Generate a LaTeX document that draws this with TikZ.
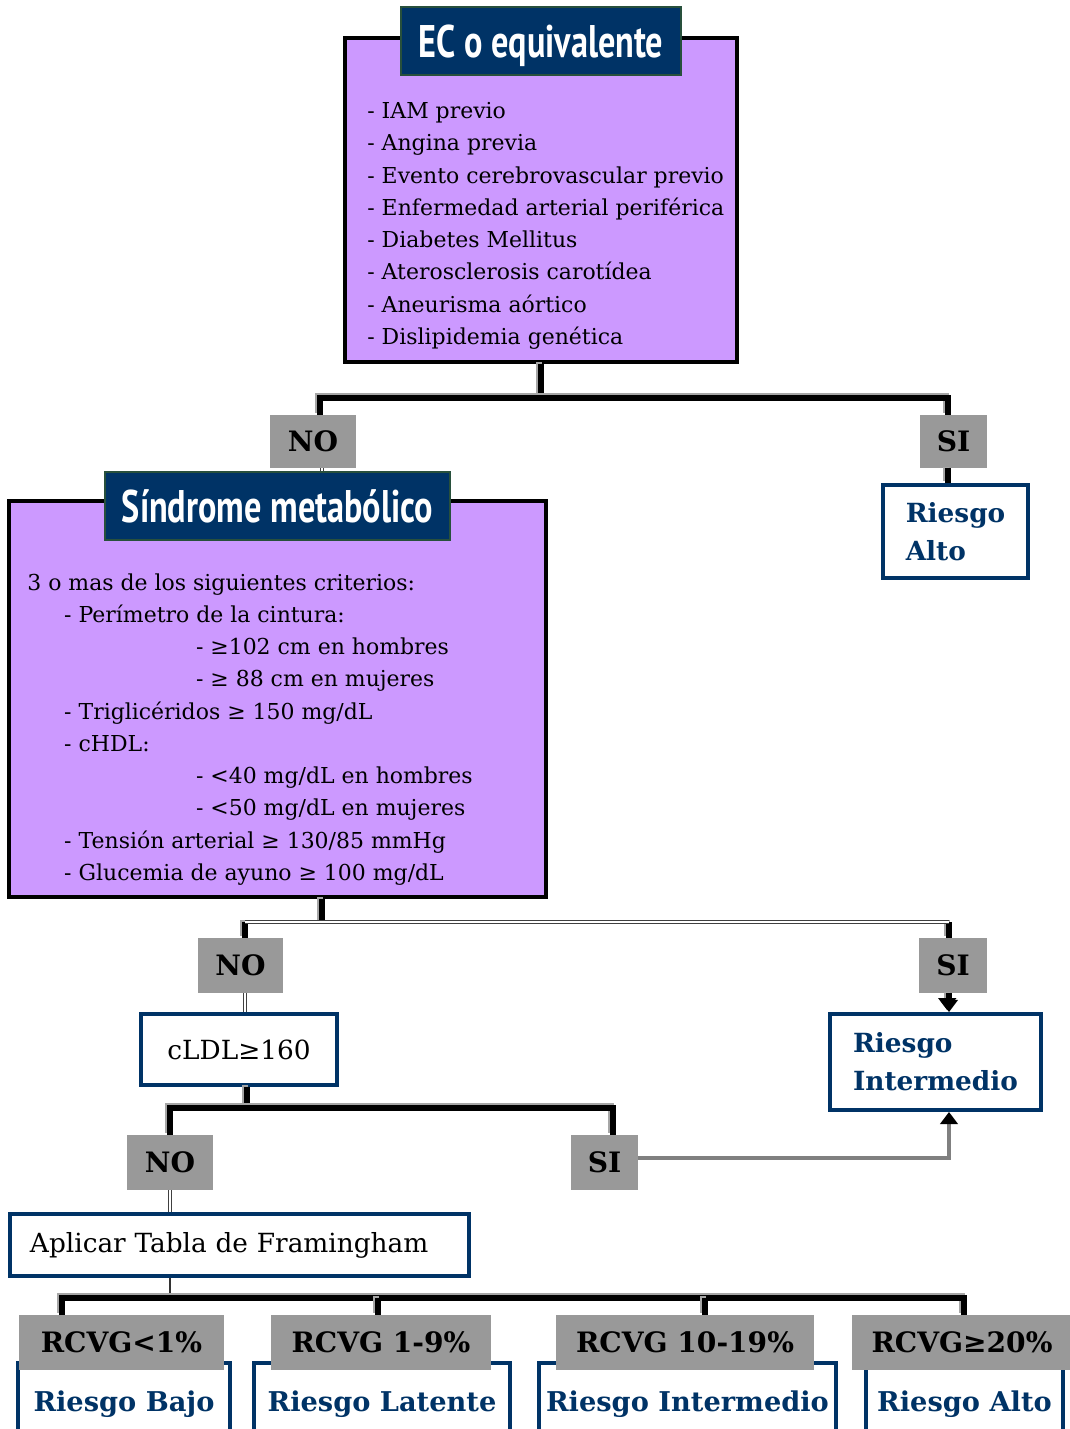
\documentclass[tikz,border=0pt]{standalone}
\usepackage{fontspec}
\setmainfont{DejaVu Serif}
\newfontfamily\hdrfont[FakeStretch=0.75]{PT Sans}
\usetikzlibrary{arrows.meta}
\definecolor{lila}{RGB}{204,153,255}
\definecolor{navy}{RGB}{0,51,102}
\definecolor{lblgray}{RGB}{153,153,153}
\definecolor{hdrline}{RGB}{40,80,60}
% name, style, x1, y1, x2, y2, text  (pixel units)
\newcommand\boxat[7]{\node[#2, minimum width={(#5-#3)*0.02cm}, minimum height={(#6-#4)*0.02cm}] (#1) at ({(#3+#5)/2},{(#4+#6)/2}) {#7};}
\begin{document}
\begin{tikzpicture}[x=0.02cm,y=-0.02cm,
  purp/.style={draw=black, line width=2.3pt, fill=lila, inner sep=0pt},
  hdr/.style={fill=navy, draw=hdrline, line width=0.6pt, text=white, inner sep=0pt, text depth=0pt,
    font=\hdrfont\bfseries\fontsize{26}{30}\selectfont},
  lbl/.style={fill=lblgray, text=black, inner sep=0pt, font=\bfseries\fontsize{16}{19}\selectfont},
  wbox/.style={draw=navy, line width=2.2pt, fill=white, inner sep=0pt},
  risk/.style={wbox, text=navy, align=left, font=\bfseries\fontsize{15}{21.5}\selectfont},
  riskb/.style={risk, font=\bfseries\fontsize{15.5}{19}\selectfont},
  plain/.style={wbox, text=black, font=\fontsize{15}{18}\selectfont},
  listtxt/.style={anchor=north west, inner sep=0pt, align=left, text=black,
    font=\fontsize{12.5}{18.37}\selectfont},
  thk/.style={draw=black, line width=3.5pt,
    preaction={draw=black!35, line width=3.5pt, transform canvas={shift={(-1pt,1pt)}}}},
  dbl/.style={draw=black!75, double=white, line width=0.6pt, double distance=1.5pt},
  thinc/.style={draw=black!80, line width=1pt},
  gline/.style={draw=black!50, line width=2.4pt},
  tip/.style={-{Triangle[length=7pt,width=10pt,color=black]}}
]
\useasboundingbox (0,0) rectangle (1070,1429);
\clip (0,0) rectangle (1070,1429);

% ---------- level 1 ----------
\boxat{ec}{purp}{345}{38}{737}{362}{}
\boxat{ech}{hdr}{401}{7}{681}{75}{EC o equivalente}
\node[listtxt] (ecl) at (367,102) {- IAM previo\\- Angina previa\\- Evento cerebrovascular previo\\- Enfermedad arterial periférica\\- Diabetes Mellitus\\- Aterosclerosis carotídea\\- Aneurisma aórtico\\- Dislipidemia genética};

\boxat{no1}{lbl}{270}{415}{356}{468}{NO}
\boxat{si1}{lbl}{920}{415}{987}{468}{SI}
\boxat{ra1}{risk}{883}{485}{1028}{578}{Riesgo\\Alto}

% ---------- level 2 ----------
\boxat{sm}{purp}{9}{501}{546}{897}{}
\boxat{smh}{hdr}{105}{472}{450}{540}{Síndrome metabólico}
\node[listtxt] (sml) at (27,573) {3 o mas de los siguientes criterios:\\
\hspace*{21pt}- Perímetro de la cintura:\\
\hspace*{96pt}- ≥102 cm en hombres\\
\hspace*{96pt}- ≥ 88 cm en mujeres\\
\hspace*{21pt}- Triglicéridos ≥ 150 mg/dL\\
\hspace*{21pt}- cHDL:\\
\hspace*{96pt}- <40 mg/dL en hombres\\
\hspace*{96pt}- <50 mg/dL en mujeres\\
\hspace*{21pt}- Tensión arterial ≥ 130/85 mmHg\\
\hspace*{21pt}- Glucemia de ayuno ≥ 100 mg/dL};

\boxat{no2}{lbl}{198}{938}{283}{993}{NO}
\boxat{si2}{lbl}{919}{938}{987}{993}{SI}
\boxat{ri}{risk}{830}{1014}{1041}{1110}{Riesgo\\Intermedio}
\boxat{ldl}{plain}{141}{1014}{337}{1085}{cLDL≥160}

% ---------- level 3 ----------
\boxat{no3}{lbl}{127}{1135}{213}{1190}{NO}
\boxat{si3}{lbl}{571}{1135}{638}{1190}{SI}
\node[plain, minimum width={459*0.02cm}, minimum height={62*0.02cm}, text width={419*0.02cm}, align=left] (fr) at (239.5,1245) {Aplicar Tabla de Framingham};

% ---------- level 4 ----------
\boxat{b1}{riskb}{18}{1363}{230}{1445}{Riesgo Bajo}
\boxat{b2}{riskb}{254}{1363}{510}{1445}{Riesgo Latente}
\boxat{b3}{riskb}{539}{1363}{836}{1445}{Riesgo Intermedio}
\boxat{b4}{riskb}{866}{1363}{1063}{1445}{Riesgo Alto}
\boxat{g1}{lbl}{19}{1315}{224}{1370}{RCVG<1\%}
\boxat{g2}{lbl}{271}{1315}{491}{1370}{RCVG 1-9\%}
\boxat{g3}{lbl}{556}{1315}{814}{1370}{RCVG 10-19\%}
\boxat{g4}{lbl}{852}{1315}{1072}{1370}{RCVG≥20\%}

% ---------- connectors ----------
\coordinate (j1l) at (320,398);
\coordinate (j1r) at (948,398);
\draw[thk] (ec.south) -- (ec.south |- j1l);
\draw[thk] (j1l |- no1.north) -- (j1l) -- (j1r) -- (j1r |- si1.north);
\draw[thk] (si1.south -| j1r) -- (ra1.north -| j1r);

\coordinate (k1) at (322,922);
\coordinate (k2l) at (245,922);
\coordinate (k2r) at (949,922);
\draw[dbl] (no1.south -| k1) -- (smh.north -| k1);
\draw[thk] (sm.south -| k1) -- (k1);
\draw[thk] (k2l) -- (k2l |- no2.north);
\draw[thk] (k2r) -- (k2r |- si2.north);
\draw[dbl] (k2l) -- (k2r);
\draw[dbl] (no2.south -| k2l) -- (ldl.north -| k2l);
\draw[thk, tip] (si2.south -| k2r) -- (ri.north -| k2r);

\coordinate (m1) at (247,1108);
\coordinate (m1l) at (170,1108);
\coordinate (m1r) at (613,1108);
\coordinate (sj) at (949,1158);
\draw[thk] (ldl.south -| m1) -- (m1);
\draw[thk] (m1l |- no3.north) -- (m1l) -- (m1r) -- (m1r |- si3.north);
\draw[dbl] (no3.south -| m1l) -- (fr.north -| m1l);
\draw[gline, tip] (si3.east |- sj) -- (sj) -- (ri.south -| sj);

\coordinate (n0) at (170,1298);
\coordinate (n1) at (62,1298);
\coordinate (n2) at (378,1298);
\coordinate (n3) at (705,1298);
\coordinate (n4) at (964,1298);
\draw[thinc] (fr.south -| n0) -- (n0);
\draw[thk] (n1 |- g1.north) -- (n1) -- (n4) -- (n4 |- g4.north);
\draw[thk] (n2) -- (n2 |- g2.north);
\draw[thk] (n3) -- (n3 |- g3.north);
\end{tikzpicture}
\end{document}
